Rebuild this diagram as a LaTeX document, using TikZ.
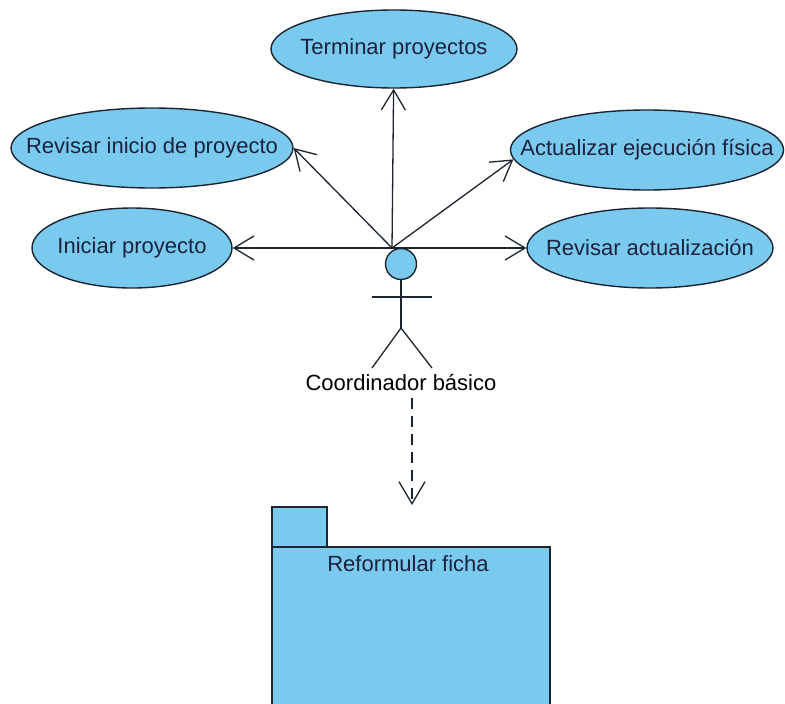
\documentclass[tikz,border=0pt]{standalone}
\usepackage{fontspec}
\setmainfont{Liberation Sans}
\usetikzlibrary{shapes.geometric,arrows.meta,calc}
\definecolor{ucfill}{RGB}{122,202,240}
\definecolor{ucline}{RGB}{28,36,48}
\definecolor{uctext}{RGB}{28,34,60}
\tikzset{
  usecase/.style={ellipse,draw=ucline,fill=ucfill,line width=1.4pt,inner xsep=-30pt,inner ysep=0pt,
    font=\fontsize{22}{26}\selectfont,text=uctext},
  assoc/.style={draw=ucline,line width=1.3pt,-{Straight Barb[length=20pt,width=24pt,line width=1.3pt]}},
  dep/.style={draw=ucline,line width=1.3pt,dash pattern=on 11pt off 7pt,
    -{Straight Barb[length=22pt,width=26pt,line width=1.3pt]}},
  limb/.style={draw=ucline,line width=1.3pt},
  pkg/.style={draw=ucline,fill=ucfill,line width=1.4pt},
}
\begin{document}
\begin{tikzpicture}[x=1pt,y=-1pt]
\useasboundingbox (0,0) rectangle (785,704);
\fill[white] (0,0) rectangle (785,704);

% use cases
\node[usecase,minimum width=246pt,minimum height=78pt] (ter) at (394,49) {Terminar proyectos};
\node[usecase,minimum width=282pt,minimum height=80pt] (revi) at (152,148) {Revisar inicio de proyecto};
\node[usecase,minimum width=200pt,minimum height=80pt] (ini) at (132,248) {Iniciar proyecto};
\node[usecase,minimum width=272pt,minimum height=80pt] (act) at (647,150) {Actualizar ejecución física};
\node[usecase,minimum width=246pt,minimum height=80pt] (reva) at (650,248) {Revisar actualización};

% actor
\coordinate (hub) at (392,248);
\node[circle,draw=ucline,fill=ucfill,line width=1.4pt,minimum size=31pt,inner sep=0pt] (head) at (401,264) {};
\coordinate (hip) at (401,328);
\coordinate (armL) at (372,297);
\coordinate (armR) at (432,297);
\coordinate (footL) at (372,368);
\coordinate (footR) at (432,368);
\draw[limb] (head.south) -- (hip);
\draw[limb] (armL) -- (armR);
\draw[limb] (footL) -- (hip) -- (footR);
\node[font=\fontsize{22}{26}\selectfont,text=black,inner sep=0pt] (actor) at (401,383) {Coordinador básico};

% associations
\draw[assoc] (hub) -- (ter);
\draw[assoc] (hub) -- (revi.east);
\draw[assoc] (hub) -- (ini.east);
\draw[assoc] (hub) -- (act.184);
\draw[assoc] (hub) -- (reva.west);

% package
\draw[pkg] (272,507) rectangle (327,547);
\draw[pkg] (272,547) rectangle (550,712);
\node[font=\fontsize{22}{26}\selectfont,text=uctext,inner sep=0pt] (pkglbl) at (408,564) {Reformular ficha};

% dependency
\coordinate (dtop) at (412,398);
\coordinate (dend) at (412,505);
\draw[dep] (dtop) -- (dend);
\end{tikzpicture}
\end{document}
